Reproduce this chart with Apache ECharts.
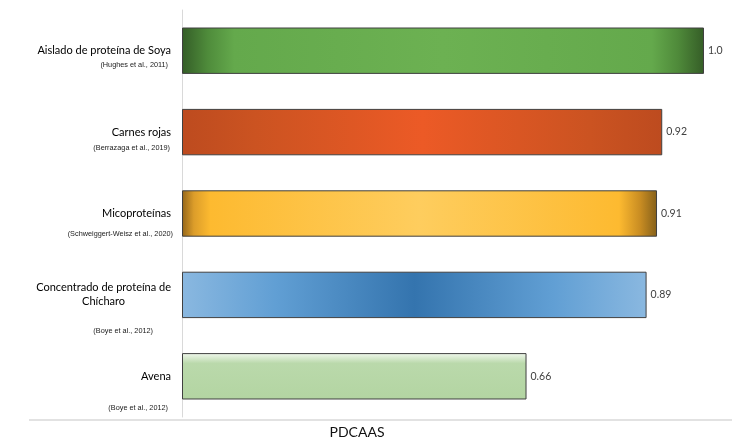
<!DOCTYPE html>
<html>
<head>
<meta charset="utf-8">
<script src="https://cdn.jsdelivr.net/npm/echarts@6/dist/echarts.min.js"></script>
<style>
html,body{margin:0;padding:0;background:#fff;}
#c{width:735px;height:437px;}
</style>
</head>
<body>
<div id="c"></div>
<script>
const categories = ['Aislado de proteína de Soya', 'Carnes rojas', 'Micoproteínas', 'Concentrado de proteína de\nChícharo', 'Avena'];
const citations = ['(Hughes et al., 2011)', '(Berrazaga et al., 2019)', '(Schweiggert-Weisz et al., 2020)', '(Boye et al., 2012)', '(Boye et al., 2012)'];
const values = [1.0, 0.92, 0.91, 0.89, 0.66];
const valueLabels = ['1.0', '0.92', '0.91', '0.89', '0.66'];
const axisTitle = 'PDCAAS';

const G = echarts.graphic;
const h = (stops) => new G.LinearGradient(0, 0, 1, 0, stops.map(s => ({offset: s[0], color: s[1]})));
const v = (stops) => new G.LinearGradient(0, 0, 0, 1, stops.map(s => ({offset: s[0], color: s[1]})));
const fills = [
  h([[0,'#345d27'],[0.05,'#4f8c3b'],[0.1,'#64a94c'],[0.5,'#6cb152'],[0.9,'#64a94c'],[0.95,'#4f8a3a'],[1,'#355d27']]),
  h([[0,'#bd4b1f'],[0.15,'#cb5321'],[0.5,'#ec5a26'],[0.85,'#cb5321'],[1,'#bd4b1f']]),
  h([[0,'#94661a'],[0.025,'#dc9d2a'],[0.06,'#fdba30'],[0.5,'#fecd5e'],[0.92,'#fdba30'],[0.965,'#c88c22'],[1,'#85601a']]),
  h([[0,'#8ab8e0'],[0.2,'#619fd4'],[0.5,'#3474ae'],[0.8,'#619fd4'],[1,'#8ab8e0']]),
  v([[0,'#f1f8ee'],[0.22,'#bad9ab'],[1,'#b3d5a2']])
];

const citeStyle = [
  {dy: 14, dx: 5}, {dy: 15.5, dx: 3}, {dy: 20, dx: 0}, {dy: 36, dx: 20}, {dy: 32, dx: 5}
];
const citeRich = {};
citeStyle.forEach((s, i) => {
  citeRich['c' + i] = {fontFamily: 'Liberation Sans', fontSize: 7.3, color: '#1a1a1a', padding: [2 * s.dy, s.dx, 0, 0]};
});

const chart = echarts.init(document.getElementById('c'));
chart.setOption({
  animation: false,
  grid: {left: 182, top: 10, width: 522, height: 407},
  xAxis: {type: 'value', min: 0, max: 1, show: false},
  yAxis: [
    {
      type: 'category', data: categories, inverse: true,
      axisLine: {lineStyle: {color: '#d9d9d9', width: 1}},
      axisTick: {length: 4, lineStyle: {color: '#d9d9d9'}},
      axisLabel: {
        margin: 11,
        formatter: (val) => val.split('\n').map(l => '{n|' + l + '}').join('\n'),
        rich: {n: {fontFamily: 'Lato', fontSize: 11, color: '#000', align: 'center', lineHeight: 14}}
      }
    },
    {
      type: 'category', data: citations.map((c, i) => i + ''), inverse: true, position: 'left',
      axisLine: {show: false}, axisTick: {show: false}, splitLine: {show: false},
      axisLabel: {
        margin: 9,
        formatter: (val, i) => '{c' + i + '|' + citations[i] + '}',
        rich: citeRich
      }
    }
  ],
  series: [{
    type: 'bar',
    barWidth: '57%',
    data: values.map((val, i) => ({value: val, itemStyle: {color: fills[i]}})),
    itemStyle: {borderColor: '#404040', borderWidth: 1},
    label: {
      show: true, position: 'right', distance: 4,
      fontFamily: 'Lato', fontSize: 10.5, color: '#404040',
      formatter: (p) => valueLabels[p.dataIndex]
    }
  }],
  graphic: [
    {type: 'line', shape: {x1: 29, y1: 420, x2: 732, y2: 420}, style: {stroke: '#e2e2e2', lineWidth: 2}, silent: true},
    {type: 'text', x: 357, y: 432, style: {text: axisTitle, fontFamily: 'Lato', fontSize: 14, fill: '#111', align: 'center', verticalAlign: 'middle'}}
  ]
});
</script>
</body>
</html>
